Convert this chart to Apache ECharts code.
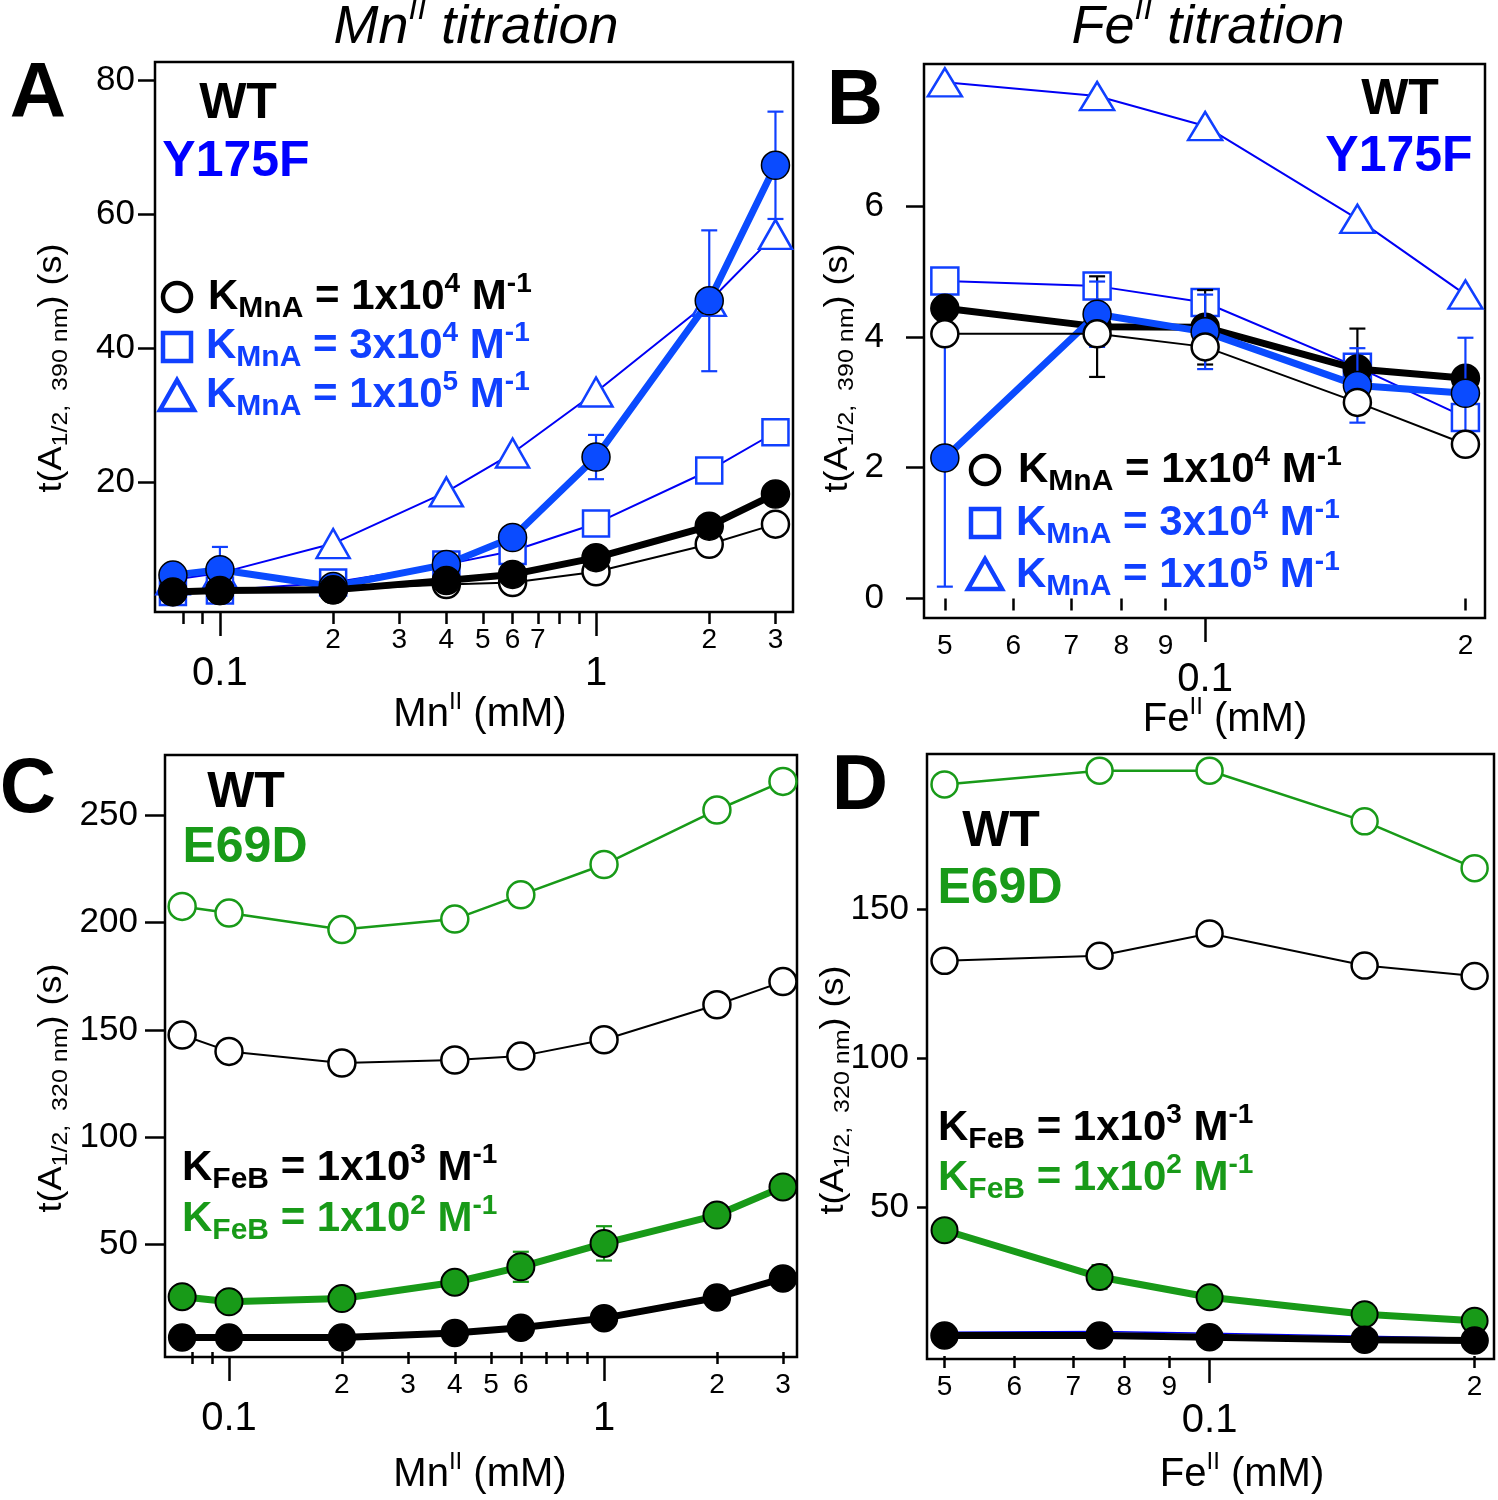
<!DOCTYPE html>
<html><head><meta charset="utf-8">
<script src="https://cdn.jsdelivr.net/npm/echarts@6/dist/echarts.min.js"></script>
<style>html,body{margin:0;padding:0;background:#fff}#c{width:1498px;height:1500px}</style>
</head><body><div id="c"></div>
<script>
// ---------- data ----------
// Panel A : Mn titration, 390 nm
const A_x = [0.075, 0.1, 0.2, 0.4, 0.6, 1, 2, 3];
const A_wtData = [3.7, 3.9, 4.0, 5.4, 6.3, 8.8, 13.5, 18.3];
const A_y175fData = [6.2, 7.0, 4.5, 7.8, 11.8, 23.8, 47.1, 67.3];
const A_y175fErr = [1.6, 3.4, 0.5, 0.8, 0.8, 3.3, 10.5, 8.0];
const A_model1e4 = [3.8, 3.9, 4.0, 4.8, 5.1, 6.7, 10.8, 13.8];
const A_model3e4 = [3.7, 3.9, 5.1, 7.8, 9.8, 13.9, 21.8, 27.5];
const A_model1e5 = [5.5, 6.5, 10.9, 18.6, 24.4, 33.5, 47.0, 57.0];
const A_yTicks = [20, 40, 60, 80];
const A_xMinorTicks = [0.08, 0.09, 0.2, 0.3, 0.4, 0.5, 0.6, 0.7, 0.8, 0.9, 2, 3];
const A_xMinorLabels = [0.2, 0.3, 0.4, 0.5, 0.6, 0.7, 2, 3];
const A_xMajor = [0.1, 1];

// Panel B : Fe titration, 390 nm
const B_x = [0.05, 0.075, 0.1, 0.15, 0.2];
const B_wtData = [4.44, 4.16, 4.15, 3.51, 3.37];
const B_wtErr = [0, 0.77, 0.57, 0.62, 0];
const B_y175fData = [2.15, 4.35, 4.08, 3.26, 3.14];
const B_y175fErr = [1.97, 0.5, 0.57, 0.57, 0.85];
const B_model1e4 = [4.05, 4.05, 3.85, 3.0, 2.36];
const B_model3e4 = [4.86, 4.78, 4.53, 3.54, 2.77];
const B_model1e5 = [7.9, 7.69, 7.23, 5.81, 4.65];
const B_yTicks = [0, 2, 4, 6];
const B_xMinorTicks = [0.05, 0.06, 0.07, 0.08, 0.09, 0.2];
const B_xMinorLabels = [0.05, 0.06, 0.07, 0.08, 0.09, 0.2];
const B_xMajor = [0.1];

// Panel C : Mn titration, 320 nm
const C_x = [0.075, 0.1, 0.2, 0.4, 0.6, 1, 2, 3];
const C_wtData = [6.8, 6.8, 6.8, 8.9, 11.3, 15.8, 25.4, 34.3];
const C_e69dData = [25.8, 23.4, 24.9, 32.5, 39.7, 50.6, 63.8, 76.9];
const C_e69dErr = [0, 0, 0, 0, 7, 8, 0, 0];
const C_model1e3 = [147.6, 140, 134.6, 136, 137.8, 145.4, 161.7, 172.5];
const C_model1e2 = [207.5, 204.4, 196.7, 201.6, 212.9, 227, 252.4, 265.7];
const C_yTicks = [50, 100, 150, 200, 250];
const C_xMinorTicks = [0.08, 0.09, 0.2, 0.3, 0.4, 0.5, 0.6, 0.7, 0.8, 0.9, 2, 3];
const C_xMinorLabels = [0.2, 0.3, 0.4, 0.5, 0.6, 2, 3];
const C_xMajor = [0.1, 1];

// Panel D : Fe titration, 320 nm
const D_x = [0.05, 0.075, 0.1, 0.15, 0.2];
const D_wtData = [6.9, 6.9, 6.3, 5.5, 5.2];
const D_blueHidden = [8.0, 8.2, 7.6, 6.6, 6.0];
const D_e69dData = [42.2, 26.5, 19.7, 14.0, 11.8];
const D_e69dErr = [0, 4, 0, 0, 0];
const D_model1e3 = [132.6, 134.3, 141.8, 131.0, 127.5];
const D_model1e2 = [191.8, 196.4, 196.4, 179.4, 163.7];
const D_yTicks = [50, 100, 150];
const D_xMinorTicks = [0.05, 0.06, 0.07, 0.08, 0.09, 0.2];
const D_xMinorLabels = [0.05, 0.06, 0.07, 0.08, 0.09, 0.2];
const D_xMajor = [0.1];

// ---------- styles ----------
const BLUE_LINE = '#0000f5';
const BLUE_FILL = '#0a4bff';
const BLUE_TXT = '#1040ff';
const GREEN = '#189a18';
const NARROW = "'Liberation Sans Narrow', 'Liberation Sans', Arial, sans-serif";
const SANS = "'Liberation Sans', Arial, sans-serif";

const panels = [
  {grid:{left:155, top:62, width:638, height:550}, xmin:0.0672, xmax:3.34, ymin:0.7, ymax:82.7, ytl:17, ym:20,
   yTicks:A_yTicks, minorT:A_xMinorTicks, minorL:A_xMinorLabels, major:A_xMajor, fmt:v => v < 1 ? Math.round(v*10) : Math.round(v)},
  {grid:{left:924, top:64, width:561, height:554}, xmin:0.0473, xmax:0.2107, ymin:-0.3, ymax:8.18, ytl:18, ym:40,
   yTicks:B_yTicks, minorT:B_xMinorTicks, minorL:B_xMinorLabels, major:B_xMajor, fmt:v => v < 0.1 ? Math.round(v*100) : Math.round(v*10)},
  {grid:{left:165, top:755, width:632, height:602}, xmin:0.0675, xmax:3.27, ymin:-2.3, ymax:278, ytl:20, ym:27,
   yTicks:C_yTicks, minorT:C_xMinorTicks, minorL:C_xMinorLabels, major:C_xMajor, fmt:v => v < 1 ? Math.round(v*10) : Math.round(v)},
  {grid:{left:927, top:754, width:567, height:605}, xmin:0.04776, xmax:0.2104, ymin:-1, ymax:202, ytl:10, ym:18,
   yTicks:D_yTicks, minorT:D_xMinorTicks, minorL:D_xMinorLabels, major:D_xMajor, fmt:v => v < 0.1 ? Math.round(v*100) : Math.round(v*10)}
];

const grid = [], xAxis = [], yAxis = [];
panels.forEach((p, i) => {
  grid.push(Object.assign({show:true, borderColor:'#000', borderWidth:2.5, backgroundColor:'transparent', containLabel:false}, p.grid));
  xAxis.push({type:'log', logBase:10, gridIndex:i, min:p.xmin, max:p.xmax, position:'bottom',
    axisLine:{show:false}, splitLine:{show:false}, minorTick:{show:false},
    axisTick:{show:true, length:12, lineStyle:{color:'#000', width:2.5}, customValues:p.minorT},
    axisLabel:{show:true, customValues:p.minorL, formatter:v => String(p.fmt(v)), fontFamily:NARROW, fontSize:28, color:'#000', margin:14}});
  xAxis.push({type:'log', logBase:10, gridIndex:i, min:p.xmin, max:p.xmax, position:'bottom',
    axisLine:{show:false}, splitLine:{show:false}, minorTick:{show:false},
    axisTick:{show:true, length:24, lineStyle:{color:'#000', width:2.5}, customValues:p.major},
    axisLabel:{show:true, customValues:p.major, formatter:v => (v < 1 ? '0.1' : '1'), fontFamily:NARROW, fontSize:40, color:'#000', margin:42}});
  yAxis.push({type:'value', gridIndex:i, min:p.ymin, max:p.ymax,
    axisLine:{show:false}, splitLine:{show:false},
    axisTick:{show:true, length:p.ytl, lineStyle:{color:'#000', width:2.5}, customValues:p.yTicks},
    axisLabel:{show:true, customValues:p.yTicks, fontFamily:SANS, fontSize:35, color:'#000', margin:p.ym}});
});

function ser(gi, xs, ys, o) {
  return {type:'line', xAxisIndex:2*gi, yAxisIndex:gi, data:xs.map((x,k)=>[x, ys[k]]),
    symbol:o.symbol || 'circle', symbolSize:o.size || 27, showSymbol: o.symbol !== 'none',
    lineStyle:{color:o.lc, width:o.lw}, itemStyle:{color:o.fill, borderColor:o.bc, borderWidth:o.bw, opacity:1},
    z:o.z, animation:false, silent:true, clip:false};
}
function err(gi, xs, ys, es, color, z) {
  return {type:'custom', xAxisIndex:2*gi, yAxisIndex:gi, data:xs.map((x,k)=>[x, ys[k], es[k]]), z:z, animation:false, silent:true,
    renderItem:(params, api) => {
      const x = api.value(0), y = api.value(1), e = api.value(2);
      if (!e) return null;
      const t = api.coord([x, y + e]), b = api.coord([x, y - e]);
      const w = 8;
      const st = {stroke:color, lineWidth:2.2};
      return {type:'group', children:[
        {type:'line', shape:{x1:t[0], y1:t[1], x2:b[0], y2:b[1]}, style:st},
        {type:'line', shape:{x1:t[0]-w, y1:t[1], x2:t[0]+w, y2:t[1]}, style:st},
        {type:'line', shape:{x1:b[0]-w, y1:b[1], x2:b[0]+w, y2:b[1]}, style:st}]};
    }};
}

const series = [
  // A
  ser(0, A_x, A_model1e5, {symbol:'triangle', size:[33,29], lc:BLUE_LINE, lw:2, fill:'#fff', bc:BLUE_TXT, bw:2.5, z:3}),
  ser(0, A_x, A_model3e4, {symbol:'rect', size:26, lc:BLUE_LINE, lw:2, fill:'#fff', bc:BLUE_TXT, bw:2.5, z:4}),
  ser(0, A_x, A_model1e4, {symbol:'circle', size:27, lc:'#000', lw:2, fill:'#fff', bc:'#000', bw:2.5, z:5}),
  err(0, A_x, A_y175fData, A_y175fErr, BLUE_TXT, 6),
  ser(0, A_x, A_y175fData, {symbol:'circle', size:28, lc:BLUE_FILL, lw:7, fill:BLUE_FILL, bc:'#000', bw:1.5, z:7}),
  ser(0, A_x, A_wtData, {symbol:'circle', size:28, lc:'#000', lw:7, fill:'#000', bc:'#000', bw:1.5, z:8}),
  // B
  ser(1, B_x, B_model1e5, {symbol:'triangle', size:[34,28], lc:BLUE_LINE, lw:2, fill:'#fff', bc:BLUE_TXT, bw:2.5, z:3}),
  ser(1, B_x, B_model3e4, {symbol:'rect', size:27, lc:BLUE_LINE, lw:2, fill:'#fff', bc:BLUE_TXT, bw:2.5, z:4}),
  err(1, B_x, B_wtData, B_wtErr, '#000', 5),
  ser(1, B_x, B_wtData, {symbol:'circle', size:28, lc:'#000', lw:7, fill:'#000', bc:'#000', bw:1.5, z:6}),
  err(1, B_x, B_y175fData, B_y175fErr, BLUE_TXT, 7),
  ser(1, B_x, B_y175fData, {symbol:'circle', size:28, lc:BLUE_FILL, lw:7, fill:BLUE_FILL, bc:'#000', bw:1.5, z:8}),
  ser(1, B_x, B_model1e4, {symbol:'circle', size:27, lc:'#000', lw:2, fill:'#fff', bc:'#000', bw:2.5, z:9}),
  // C
  ser(2, C_x, C_model1e2, {symbol:'circle', size:27, lc:GREEN, lw:2.5, fill:'#fff', bc:GREEN, bw:2.5, z:3}),
  ser(2, C_x, C_model1e3, {symbol:'circle', size:27, lc:'#000', lw:2, fill:'#fff', bc:'#000', bw:2.5, z:4}),
  err(2, C_x, C_e69dData, C_e69dErr, GREEN, 5),
  ser(2, C_x, C_e69dData, {symbol:'circle', size:27, lc:GREEN, lw:7, fill:GREEN, bc:'#000', bw:2, z:6}),
  ser(2, C_x, C_wtData, {symbol:'circle', size:27, lc:'#000', lw:7, fill:'#000', bc:'#000', bw:1.5, z:7}),
  // D
  ser(3, D_x, D_model1e2, {symbol:'circle', size:26, lc:GREEN, lw:2.5, fill:'#fff', bc:GREEN, bw:2.5, z:3}),
  ser(3, D_x, D_model1e3, {symbol:'circle', size:26, lc:'#000', lw:2, fill:'#fff', bc:'#000', bw:2.5, z:4}),
  err(3, D_x, D_e69dData, D_e69dErr, GREEN, 5),
  ser(3, D_x, D_e69dData, {symbol:'circle', size:26, lc:GREEN, lw:7, fill:GREEN, bc:'#000', bw:2, z:6}),
  ser(3, D_x, D_blueHidden, {symbol:'none', lc:BLUE_LINE, lw:1.5, z:6}),
  ser(3, D_x, D_wtData, {symbol:'circle', size:27, lc:'#000', lw:7, fill:'#000', bc:'#000', bw:1.5, z:7})
];

// ---------- text (graphic) ----------
function rich(color, main, sub, sup, family, weight, style) {
  return {
    n:{fontSize:main, lineHeight:Math.round(main*1.25), fontWeight:weight, fontStyle:style||'normal', fontFamily:family, fill:color, verticalAlign:'middle'},
    b:{fontSize:sub, lineHeight:sub, fontWeight:weight, fontStyle:style||'normal', fontFamily:family, fill:color, verticalAlign:'bottom'},
    p:{fontSize:sup, lineHeight:sup, fontWeight:weight, fontStyle:style||'normal', fontFamily:family, fill:color, verticalAlign:'top'}
  };
}
function txt(x, y, text, r, align, rot, sy) {
  return {type:'text', x:x, y:y, rotation:rot || 0, scaleY:sy || 1, silent:true, z:100,
    style:{text:text, rich:r, x:0, y:0, align:align || 'center', textAlign:align || 'center', verticalAlign:'middle', textVerticalAlign:'middle'}};
}
function plain(x, y, text, size, color, weight, family, align) {
  return {type:'text', x:x, y:y, silent:true, z:100,
    style:{text:text, fontSize:size, fontWeight:weight||'bold', fontFamily:family||SANS, fill:color, x:0, y:0,
      align:align||'center', textAlign:align||'center', verticalAlign:'middle', textVerticalAlign:'middle'}};
}
const rTitle = rich('#000', 54, 32, 32, NARROW, 'normal', 'italic');
const rXName = rich('#000', 40, 24, 24, NARROW, 'normal');
const rYName = rich('#000', 36, 25, 25, SANS, 'normal');
const rKblack = rich('#000', 42, 30, 28, SANS, 'bold');
const rKblue = rich(BLUE_TXT, 42, 30, 28, SANS, 'bold');
const rKgreen = rich(GREEN, 42, 30, 28, SANS, 'bold');

const kMn = (exp, mant) => `{n|K}{b|MnA}{n| = ${mant}x10}{p|${exp}}{n| M}{p|-1}`;
const kFe = (exp) => `{n|K}{b|FeB}{n| = 1x10}{p|${exp}}{n| M}{p|-1}`;
const yName390 = '{n|t(A}{b|1/2,  390 nm}{n|) (s)}';
const yName320 = '{n|t(A}{b|1/2,  320 nm}{n|) (s)}';

function circleG(cx, cy, color) { return {type:'circle', shape:{cx:cx, cy:cy, r:14}, style:{fill:'#fff', stroke:color, lineWidth:4.5}, silent:true, z:100}; }
function rectG(cx, cy, color) { return {type:'rect', shape:{x:cx-14, y:cy-14, width:28, height:28}, style:{fill:'#fff', stroke:color, lineWidth:4.5}, silent:true, z:100}; }
function triG(cx, cy, color) { return {type:'polygon', shape:{points:[[cx, cy-16],[cx+17, cy+14],[cx-17, cy+14]]}, style:{fill:'#fff', stroke:color, lineWidth:4.5}, silent:true, z:100}; }

const graphic = [
  // panel letters
  plain(38, 95, 'A', 78, '#000', 'bold'),
  plain(855, 102, 'B', 78, '#000', 'bold'),
  plain(28, 790, 'C', 78, '#000', 'bold'),
  plain(860, 787, 'D', 78, '#000', 'bold'),
  // titles
  txt(476, 28, '{n|Mn}{p|II}{n| titration}', rTitle),
  txt(1208, 28, '{n|Fe}{p|II}{n| titration}', rTitle),
  // axis names
  txt(480, 715, '{n|Mn}{p|II}{n| (mM)}', rXName),
  txt(1225, 720, '{n|Fe}{p|II}{n| (mM)}', rXName),
  txt(480, 1475, '{n|Mn}{p|II}{n| (mM)}', rXName),
  txt(1242, 1475, '{n|Fe}{p|II}{n| (mM)}', rXName),
  txt(52, 368, yName390, rYName, 'center', Math.PI/2, 0.9),
  txt(838, 368, yName390, rYName, 'center', Math.PI/2, 0.9),
  txt(52, 1088, yName320, rYName, 'center', Math.PI/2, 0.9),
  txt(834, 1090, yName320, rYName, 'center', Math.PI/2, 0.9),
  // panel A labels
  plain(238, 104, 'WT', 50, '#000'),
  plain(236, 162, 'Y175F', 50, '#0000ff'),
  circleG(177, 297, '#000'), rectG(177, 347, BLUE_TXT), triG(177, 396, BLUE_TXT),
  txt(208, 297, kMn(4, 1), rKblack, 'left'),
  txt(206, 346, kMn(4, 3), rKblue, 'left'),
  txt(206, 395, kMn(5, 1), rKblue, 'left'),
  // panel B labels
  plain(1400, 100, 'WT', 50, '#000'),
  plain(1399, 157, 'Y175F', 50, '#0000ff'),
  circleG(985, 470, '#000'), rectG(985, 523, BLUE_TXT), triG(985, 575, BLUE_TXT),
  txt(1018, 470, kMn(4, 1), rKblack, 'left'),
  txt(1016, 523, kMn(4, 3), rKblue, 'left'),
  txt(1016, 575, kMn(5, 1), rKblue, 'left'),
  // panel C labels
  plain(246, 793, 'WT', 50, '#000'),
  plain(245, 848, 'E69D', 50, GREEN),
  txt(182, 1168, kFe(3), rKblack, 'left'),
  txt(182, 1219, kFe(2), rKgreen, 'left'),
  // panel D labels
  plain(1001, 832, 'WT', 50, '#000'),
  plain(1000, 889, 'E69D', 50, GREEN),
  txt(938, 1128, kFe(3), rKblack, 'left'),
  txt(938, 1178, kFe(2), rKgreen, 'left')
];

const chart = echarts.init(document.getElementById('c'), null, {renderer:'canvas'});
chart.setOption({animation:false, backgroundColor:'#fff', grid, xAxis, yAxis, series, graphic});
</script></body></html>
